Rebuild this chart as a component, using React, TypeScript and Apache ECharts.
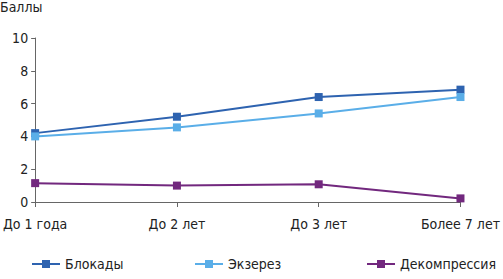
import React, { useEffect, useRef } from "react";
import * as echarts from "echarts";

const categories = ["До 1 года", "До 2 лет", "До 3 лет", "Более 7 лет"];
const blokady = [4.2, 5.2, 6.4, 6.85];
const ekzerez = [4.0, 4.55, 5.4, 6.4];
const dekompressiya = [1.15, 1.0, 1.08, 0.22];
const seriesNames = ["Блокады", "Экзерез", "Декомпрессия"];
const yTitle = "Баллы";

const FONT = "'Liberation Sans Narrow', 'DejaVu Sans Condensed', 'Arial Narrow', sans-serif";
const colors = ["#2E63B0", "#5AAEE8", "#72287E"];

export default function App() {
  const ref = useRef<HTMLDivElement>(null);
  useEffect(() => {
    if (!ref.current) return;
    const chart = echarts.init(ref.current, null, { renderer: "svg" });
    const data = [blokady, ekzerez, dekompressiya];
    const legendLefts = [26, 189, 361];
    chart.setOption({
      animation: false,
      textStyle: { fontFamily: FONT },
      grid: { left: 27, right: 37, top: 38, bottom: 77, containLabel: false },
      graphic: [
        {
          type: "text",
          left: 0,
          top: 0,
          style: { text: yTitle, fontFamily: FONT, fontSize: 14, fill: "#222" },
        },
      ],
      legend: seriesNames.map((n, i) => ({
        data: [n],
        left: legendLefts[i],
        top: 252,
        itemWidth: 28,
        itemHeight: 10,
        itemGap: 10,
        textStyle: { fontFamily: FONT, fontSize: 14, color: "#222" },
      })),
      xAxis: {
        type: "category",
        data: categories,
        boundaryGap: false,
        axisLine: { lineStyle: { color: "#666", width: 1 } },
        axisTick: { alignWithLabel: true, length: 5, lineStyle: { color: "#666" } },
        axisLabel: { fontFamily: FONT, fontSize: 14, color: "#222", margin: 15 },
      },
      yAxis: {
        type: "value",
        min: 0,
        max: 10,
        interval: 2,
        splitLine: { show: false },
        axisLine: { show: true, lineStyle: { color: "#666", width: 1 } },
        axisTick: { show: true, length: 4, lineStyle: { color: "#666" } },
        axisLabel: { fontFamily: FONT, fontSize: 14, color: "#222", margin: 7 },
      },
      series: seriesNames.map((n, i) => ({
        name: n,
        type: "line",
        data: data[i],
        color: colors[i],
        symbol: "rect",
        symbolSize: 8,
        lineStyle: { width: 2, color: colors[i] },
        itemStyle: { color: colors[i] },
      })),
    });
    return () => chart.dispose();
  }, []);
  return (
    <div
      ref={ref}
      style={{ position: "fixed", left: 0, top: 0, width: 503, height: 279, background: "#fff" }}
    />
  );
}
